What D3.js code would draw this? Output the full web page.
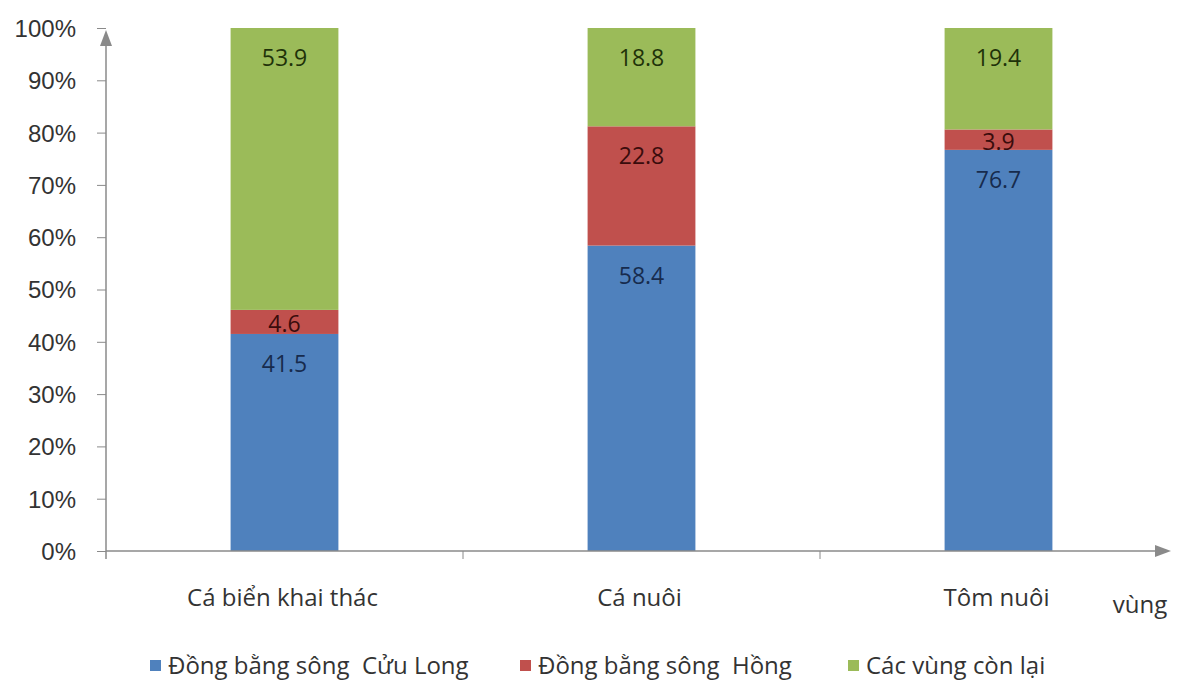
<!DOCTYPE html>
<html>
<head>
<meta charset="utf-8">
<script src="https://cdn.jsdelivr.net/npm/d3@7"></script>
<style>
  body { margin: 0; background: #fff; }
  svg { font-family: "Open Sans", "Noto Sans", sans-serif; }
</style>
</head>
<body>
<div id="chart"></div>
<script>
const categories = ['Cá biển khai thác', 'Cá nuôi', 'Tôm nuôi']
const seriesNames = ['Đồng bằng sông  Cửu Long', 'Đồng bằng sông  Hồng', 'Các vùng còn lại']
const cuuLong = [41.5, 58.4, 76.7]
const songHong = [4.6, 22.8, 3.9]
const conLai = [53.9, 18.8, 19.4]
const yTicks = [0, 10, 20, 30, 40, 50, 60, 70, 80, 90, 100]
const colors = ['#4f81bd', '#c0504d', '#9bbb59']
const labelColors = ['#172b4d', '#3a0c0c', '#1f3209']

const width = 1180, height = 686
const x0 = 106, x1 = 1177, yTop = 28, yBottom = 551

const svg = d3.select('#chart').append('svg')
  .attr('width', width).attr('height', height)

const x = d3.scaleBand().domain(categories).range([x0, x1]).paddingInner(0).paddingOuter(0)
const barW = x.bandwidth() * 0.302
const y = d3.scaleLinear().domain([0, 100]).range([yBottom, yTop])

const table = categories.map((c, i) => ({ cat: c, a: cuuLong[i], b: songHong[i], c: conLai[i] }))
const stack = d3.stack().keys(['a', 'b', 'c'])(table)

// bars
const layers = svg.append('g').selectAll('g').data(stack).join('g')
  .attr('fill', (d, i) => colors[i])
layers.selectAll('rect').data(d => d).join('rect')
  .attr('x', d => x(d.data.cat) + (x.bandwidth() - barW) / 2)
  .attr('width', barW)
  .attr('y', d => y(d[1]))
  .attr('height', d => y(d[0]) - y(d[1]))

// value labels (inside end)
stack.forEach((layer, li) => {
  svg.append('g').selectAll('text').data(layer).join('text')
    .attr('x', d => x(d.data.cat) + x.bandwidth() / 2)
    .attr('y', d => {
      const h = y(d[0]) - y(d[1])
      return h < 45 ? y(d[1]) + h / 2 + 10 : y(d[1]) + 38
    })
    .attr('text-anchor', 'middle')
    .attr('font-size', 23)
    .attr('fill', labelColors[li])
    .text(d => (d[1] - d[0]).toFixed(1))
})

// axes
const axisColor = '#8a8a8a'
const yAxis = svg.append('g').attr('transform', `translate(${x0},0)`)
  .call(d3.axisLeft(y).tickValues(yTicks).tickFormat(d => d + '%').tickSize(9).tickPadding(21))
yAxis.select('.domain').remove()
yAxis.selectAll('line').attr('stroke', axisColor)
yAxis.selectAll('text').attr('font-size', 24).attr('fill', '#333')
  .attr('dy', '0.35em')

svg.append('line').attr('x1', x0).attr('x2', x0).attr('y1', yBottom + 8).attr('y2', yTop + 12)
  .attr('stroke', axisColor).attr('stroke-width', 1.5)
svg.append('path').attr('d', `M${x0 - 6},${yTop + 18}L${x0},${yTop + 2}L${x0 + 6},${yTop + 18}Z`)
  .attr('fill', axisColor)

svg.append('line').attr('x1', x0).attr('x2', 1160).attr('y1', yBottom).attr('y2', yBottom)
  .attr('stroke', axisColor).attr('stroke-width', 1.5)
svg.append('path').attr('d', `M1155,${yBottom - 6}L1171,${yBottom}L1155,${yBottom + 6}Z`)
  .attr('fill', axisColor)

svg.append('g').selectAll('line').data(categories.slice(1)).join('line')
  .attr('x1', d => x(d)).attr('x2', d => x(d))
  .attr('y1', yBottom).attr('y2', yBottom + 8)
  .attr('stroke', axisColor)

svg.append('g').selectAll('text').data(categories).join('text')
  .attr('x', d => x(d) + x.bandwidth() / 2 - 2)
  .attr('y', 606)
  .attr('text-anchor', 'middle')
  .attr('font-size', 24)
  .attr('fill', '#333')
  .text(d => d)

svg.append('text').attr('x', 1140).attr('y', 613).attr('text-anchor', 'middle')
  .attr('font-size', 24).attr('fill', '#333').text('vùng')

// legend
const legendX = [150, 520, 848]
const legend = svg.append('g').selectAll('g').data(seriesNames).join('g')
  .attr('transform', (d, i) => `translate(${legendX[i]},665)`)
legend.append('rect').attr('x', 0).attr('y', -5).attr('width', 11).attr('height', 11)
  .attr('fill', (d, i) => colors[i])
legend.append('text').attr('x', 18).attr('y', 9)
  .attr('font-size', 24).attr('fill', '#333')
  .attr('xml:space', 'preserve').style('white-space', 'pre')
  .text(d => d)
</script>
</body>
</html>
